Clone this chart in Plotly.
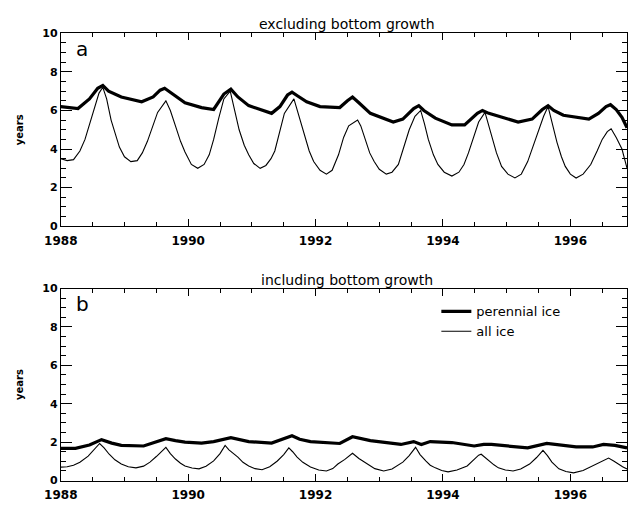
import plotly.graph_objects as go

# ---------------- data ----------------
# Panel a: excluding bottom growth
perennial_a_x = [1988.0, 1988.27, 1988.45, 1988.58, 1988.66, 1988.75, 1988.95, 1989.27, 1989.45,
                 1989.56, 1989.63, 1989.72, 1989.95, 1990.21, 1990.4, 1990.56, 1990.67, 1990.78,
                 1990.95, 1991.31, 1991.44, 1991.56, 1991.63, 1991.72, 1991.86, 1992.07,
                 1992.38, 1992.5, 1992.58, 1992.68, 1992.86, 1993.22, 1993.37, 1993.54, 1993.62,
                 1993.7, 1993.88, 1994.14, 1994.34, 1994.54, 1994.62, 1994.72, 1995.18, 1995.4,
                 1995.56, 1995.65, 1995.74, 1995.89, 1996.29, 1996.44, 1996.56, 1996.63, 1996.72,
                 1996.81, 1996.89]
perennial_a_y = [6.2, 6.1, 6.6, 7.15, 7.3, 7.0, 6.7, 6.45, 6.7,
                 7.05, 7.15, 6.95, 6.4, 6.15, 6.05, 6.85, 7.1, 6.7,
                 6.25, 5.85, 6.2, 6.8, 6.95, 6.75, 6.45, 6.2,
                 6.15, 6.5, 6.7, 6.4, 5.85, 5.4, 5.55, 6.1, 6.25,
                 6.0, 5.6, 5.25, 5.25, 5.85, 6.0, 5.85, 5.4, 5.55,
                 6.05, 6.25, 6.0, 5.75, 5.55, 5.85, 6.2, 6.3, 6.05,
                 5.65, 5.1]

all_a_x = [1988.0, 1988.1, 1988.2, 1988.3, 1988.38, 1988.5, 1988.6, 1988.66, 1988.72, 1988.79,
           1988.86, 1988.92, 1989.0, 1989.1, 1989.2, 1989.28, 1989.36, 1989.44, 1989.52, 1989.65,
           1989.72, 1989.8, 1989.88, 1989.95, 1990.05, 1990.15, 1990.25, 1990.33, 1990.4, 1990.48,
           1990.56, 1990.66, 1990.73, 1990.8, 1990.88, 1990.95, 1991.03, 1991.13, 1991.22, 1991.3,
           1991.36, 1991.44, 1991.51, 1991.66, 1991.74, 1991.82, 1991.9, 1991.97, 1992.07, 1992.17,
           1992.26, 1992.36, 1992.44, 1992.52, 1992.66, 1992.71, 1992.76, 1992.85, 1992.92, 1993.0,
           1993.11, 1993.2, 1993.3, 1993.38, 1993.47, 1993.56, 1993.65, 1993.71, 1993.77, 1993.85,
           1993.92, 1994.02, 1994.14, 1994.25, 1994.33, 1994.4, 1994.48, 1994.56, 1994.66, 1994.71,
           1994.76, 1994.84, 1994.92, 1995.02, 1995.13, 1995.23, 1995.33, 1995.42, 1995.51, 1995.58,
           1995.65, 1995.72, 1995.79, 1995.86, 1995.92, 1996.0, 1996.09, 1996.2, 1996.32, 1996.42,
           1996.5, 1996.58, 1996.64, 1996.72, 1996.81, 1996.89]
all_a_y = [3.5, 3.4, 3.45, 3.9, 4.5, 5.85, 6.9, 7.2, 6.6, 5.5,
           4.7, 4.1, 3.6, 3.35, 3.4, 3.8, 4.4, 5.2, 5.9, 6.5,
           6.0, 5.2, 4.4, 3.85, 3.2, 3.0, 3.2, 3.7, 4.5, 5.6,
           6.6, 7.0, 6.0, 5.0, 4.2, 3.7, 3.25, 3.0, 3.15, 3.5,
           3.9, 4.9, 5.85, 6.6, 5.7, 4.85, 3.9, 3.35, 2.9, 2.7,
           2.9, 3.7, 4.6, 5.2, 5.5, 5.2, 4.7, 3.8, 3.35, 2.95,
           2.7, 2.8, 3.2, 4.0, 5.0, 5.7, 6.0, 5.3, 4.5, 3.7,
           3.2, 2.8, 2.6, 2.8, 3.2, 3.8, 4.6, 5.4, 5.9, 5.3,
           4.7, 3.8, 3.1, 2.7, 2.5, 2.7, 3.35, 4.2, 5.0, 5.7,
           6.2, 5.2, 4.35, 3.6, 3.1, 2.7, 2.5, 2.7, 3.2, 3.9,
           4.5, 4.9, 5.05, 4.6, 4.0, 3.0]

# Panel b: including bottom growth
perennial_b_x = [1988.0, 1988.23, 1988.45, 1988.64, 1988.8, 1988.95, 1989.3, 1989.5, 1989.65,
                 1989.8, 1989.95, 1990.21, 1990.4, 1990.67, 1990.95, 1991.31, 1991.5, 1991.63,
                 1991.75, 1991.92, 1992.38, 1992.58, 1992.86, 1993.34, 1993.54, 1993.66, 1993.8,
                 1994.14, 1994.49, 1994.64, 1994.76, 1995.33, 1995.63, 1996.09, 1996.35, 1996.52,
                 1996.7, 1996.89]
perennial_b_y = [1.68, 1.68, 1.85, 2.13, 1.95, 1.83, 1.8, 2.0, 2.18,
                 2.08, 2.0, 1.95, 2.03, 2.23, 2.03, 1.95, 2.15, 2.33,
                 2.15, 2.03, 1.93, 2.28, 2.08, 1.88, 2.03, 1.88, 2.03,
                 1.98, 1.8, 1.88, 1.88, 1.7, 1.93, 1.75, 1.75, 1.88,
                 1.83, 1.7]

all_b_x = [1988.0, 1988.1, 1988.2, 1988.3, 1988.43, 1988.52, 1988.61, 1988.68, 1988.76, 1988.85,
           1988.95, 1989.06, 1989.18, 1989.3, 1989.4, 1989.5, 1989.58, 1989.65, 1989.72, 1989.8,
           1989.88, 1989.95, 1990.06, 1990.17, 1990.28, 1990.4, 1990.5, 1990.58, 1990.64, 1990.72,
           1990.78, 1990.86, 1990.95, 1991.05, 1991.16, 1991.28, 1991.4, 1991.5, 1991.58, 1991.64,
           1991.71, 1991.8, 1991.92, 1992.05, 1992.17, 1992.27, 1992.35, 1992.46, 1992.58, 1992.68,
           1992.81, 1992.93, 1993.07, 1993.2, 1993.37, 1993.47, 1993.57, 1993.64, 1993.73, 1993.8,
           1993.88, 1993.98, 1994.08, 1994.22, 1994.38, 1994.48, 1994.56, 1994.6, 1994.66, 1994.72,
           1994.8, 1994.87, 1994.98, 1995.1, 1995.22, 1995.36, 1995.47, 1995.57, 1995.64, 1995.71,
           1995.77, 1995.82, 1995.93, 1996.05, 1996.2, 1996.35, 1996.48, 1996.6, 1996.68, 1996.75,
           1996.82, 1996.89]
all_b_y = [0.7, 0.72, 0.8, 0.95, 1.27, 1.6, 1.93, 1.7, 1.37, 1.08,
           0.86, 0.72, 0.66, 0.75, 0.96, 1.25, 1.5, 1.73, 1.4, 1.12,
           0.9, 0.76, 0.65, 0.61, 0.75, 1.02, 1.4, 1.83, 1.6, 1.4,
           1.22, 0.95, 0.76, 0.62, 0.56, 0.72, 1.02, 1.35, 1.7, 1.5,
           1.22, 0.95, 0.71, 0.55, 0.5, 0.62, 0.86, 1.1, 1.42, 1.15,
           0.86, 0.62, 0.5, 0.6, 0.96, 1.3, 1.73, 1.35, 1.02, 0.8,
           0.66, 0.52, 0.45, 0.55, 0.76, 1.05, 1.32, 1.37, 1.2, 1.02,
           0.82, 0.66, 0.55, 0.5, 0.6, 0.86, 1.2, 1.57, 1.3, 0.96,
           0.75, 0.61, 0.47, 0.4, 0.52, 0.76, 0.98, 1.17, 1.02, 0.86,
           0.72, 0.6]

x_tickvals = [1988, 1990, 1992, 1994, 1996]
y_tickvals = [0, 2, 4, 6, 8, 10]
panel_titles = ["excluding bottom growth", "including bottom growth"]
series_names = ["perennial ice", "all ice"]

# ---------------- figure ----------------
W, H = 629, 508
FONT = "DejaVu Sans, Liberation Sans, sans-serif"

fig = go.Figure()
fig.add_trace(go.Scatter(x=perennial_a_x, y=perennial_a_y, mode="lines",
                         line=dict(color="black", width=3.2), showlegend=False,
                         xaxis="x", yaxis="y"))
fig.add_trace(go.Scatter(x=all_a_x, y=all_a_y, mode="lines",
                         line=dict(color="black", width=1.1), showlegend=False,
                         xaxis="x", yaxis="y"))
fig.add_trace(go.Scatter(x=perennial_b_x, y=perennial_b_y, mode="lines", name=series_names[0],
                         line=dict(color="black", width=3.2), xaxis="x2", yaxis="y2"))
fig.add_trace(go.Scatter(x=all_b_x, y=all_b_y, mode="lines", name=series_names[1],
                         line=dict(color="black", width=1.1), xaxis="x2", yaxis="y2"))

def px_x(p):
    return p / W

def px_y(p):
    return 1 - p / H

xdom = [px_x(45), px_x(627)]
ya_dom = [px_y(226), px_y(28)]
yb_dom = [px_y(487), px_y(290)]

xaxis_common = dict(
    range=[1988, 1996.89], tickvals=x_tickvals, ticktext=[str(v) for v in x_tickvals],
    ticks="inside", ticklen=7, tickwidth=1, tickcolor="black",
    minor=dict(dtick=0.5, tick0=1988, ticks="inside", ticklen=4, tickcolor="black"),
    showline=True, linecolor="black", linewidth=1, mirror="allticks",
    showgrid=False, zeroline=False, domain=xdom, ticklabelstandoff=3,
    tickfont=dict(family=FONT, size=12, color="black", weight="bold"),
)
yaxis_common = dict(
    range=[0, 10], tickvals=y_tickvals, ticks="inside", ticklen=11, tickwidth=1,
    tickcolor="black",
    minor=dict(dtick=0.5, tick0=0, ticks="inside", ticklen=5, tickcolor="black"),
    showline=True, linecolor="black", linewidth=1, mirror="allticks",
    showgrid=False, zeroline=False,
    tickfont=dict(family=FONT, size=11, color="black", weight="bold"),
    title=dict(text="years", font=dict(family=FONT, size=10, color="black", weight="bold"),
               standoff=16),
)

fig.update_layout(
    width=W, height=H, margin=dict(l=0, r=0, t=0, b=0),
    paper_bgcolor="white", plot_bgcolor="white",
    xaxis=dict(anchor="y", **xaxis_common),
    yaxis=dict(anchor="x", domain=ya_dom, **yaxis_common),
    xaxis2=dict(anchor="y2", **xaxis_common),
    yaxis2=dict(anchor="x2", domain=yb_dom, **yaxis_common),
    showlegend=True,
    legend=dict(x=px_x(431), y=px_y(298), xanchor="left", yanchor="top",
                bgcolor="rgba(0,0,0,0)", borderwidth=0, tracegroupgap=0,
                font=dict(family=FONT, size=13, color="black"), itemwidth=30),
    font=dict(family=FONT, color="black"),
)

# panel titles
for title, yp in zip(panel_titles, [18, 281]):
    fig.add_annotation(text=title, x=px_x(339), y=px_y(yp), xref="paper", yref="paper",
                       showarrow=False, xanchor="center", yanchor="middle",
                       font=dict(family=FONT, size=14, color="black"))

# panel letters
for letter, yp in zip(["a", "b"], [44, 306]):
    fig.add_annotation(text=letter, x=px_x(59), y=px_y(yp), xref="paper", yref="paper",
                       showarrow=False, xanchor="left", yanchor="middle",
                       font=dict(family=FONT, size=20, color="black"))

fig.write_html("out.html")
